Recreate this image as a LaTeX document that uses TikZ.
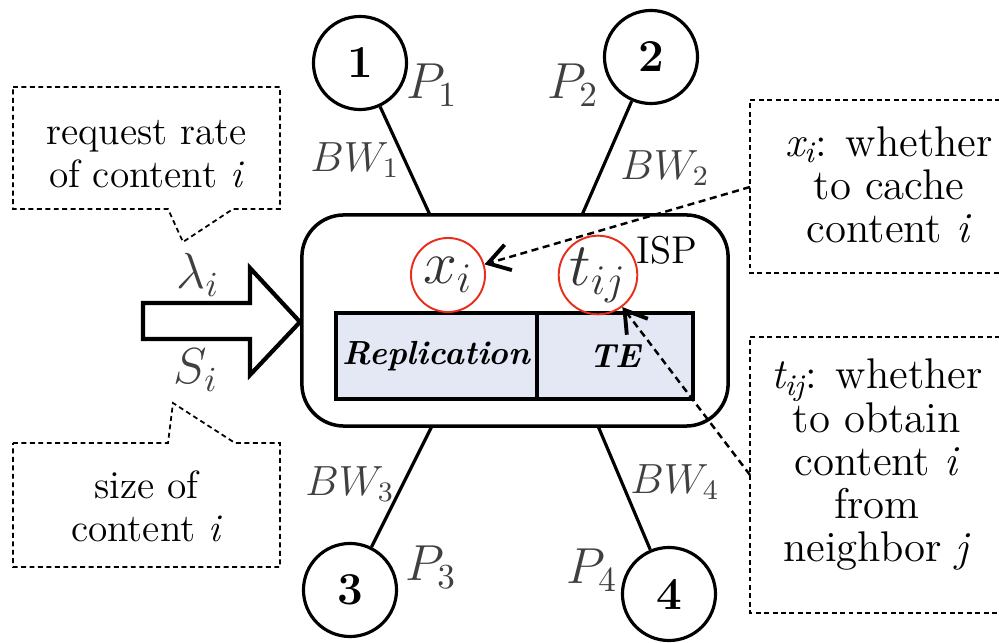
\documentclass[tikz,border=0pt]{standalone}
\usepackage{fontspec}
\usepackage{xcolor}
\usetikzlibrary{arrows.meta}
\definecolor{boxblue}{RGB}{227,232,244}
\definecolor{ringred}{RGB}{232,45,25}

\begin{document}
\begin{tikzpicture}[x=0.01cm, y=-0.01cm,
  peer/.style={circle, draw, line width=0.9pt, minimum size=0.93cm, inner sep=0pt, font=\fontsize{13}{13}\selectfont\bfseries},
  redring/.style={circle, draw=ringred, line width=0.55pt, minimum size=0.74cm, inner sep=0pt, text=black!80, font=\fontsize{17.28}{17.28}\selectfont},
  module/.style={draw, fill=boxblue, line width=0.9pt, minimum height=0.86cm, inner sep=0pt, font=\fontsize{9.5}{9.5}\selectfont\bfseries\itshape},
  note/.style={align=center, inner sep=0pt, font=\fontsize{11.2}{12.2}\selectfont},
  bignote/.style={note, font=\fontsize{12.2}{12.3}\selectfont},
  notebox/.style={dash pattern=on 1.4pt off 1pt, line width=0.5pt},
  hint/.style={dash pattern=on 2pt off 1.3pt, line width=0.7pt, -{Straight Barb[length=6pt,width=7.5pt,line width=1.1pt]}},
  lbl/.style={text=black!75, inner sep=0pt},
  link/.style={line width=0.9pt}
]
\useasboundingbox (0,0) rectangle (999,643);

% ISP box with its two modules
\node[draw, line width=1pt, rounded corners=12pt, minimum width=4.26cm, minimum height=2.11cm] (isp) at (515,320.5) {};
\node[lbl, text=black, font=\fontsize{11}{11}\selectfont] (ispname) at (667,250) {ISP};
\node[module, minimum width=2.01cm] (rep) at (436.5,356) {Replication};
\node[module, minimum width=1.56cm] (te) at (615,356) {TE};

% Decision variables
\node[redring] (xc) at (448,275) {$x_i$};
\node[redring] (tc) at (598,275) {$t_{ij}$};

% Neighbors
\node[peer] (n1) at (360,63) {1};
\node[peer] (n2) at (651,57) {2};
\node[peer] (n3) at (350,590) {3};
\node[peer] (n4) at (669,594) {4};

% Links to the ISP
\coordinate (l1) at (430,215);
\coordinate (l2) at (582,215);
\coordinate (l3) at (432,426);
\coordinate (l4) at (598,426);
\draw[link] (n1) -- (l1);
\draw[link] (n2) -- (l2);
\draw[link] (l3) -- (n3);
\draw[link] (l4) -- (n4);

% Prices and bandwidths
\node[lbl, font=\fontsize{14.4}{14.4}\selectfont] (p1) at (432,85) {$P_1$};
\node[lbl, font=\fontsize{14.4}{14.4}\selectfont] (p2) at (573,85) {$P_2$};
\node[lbl, font=\fontsize{14.4}{14.4}\selectfont] (p3) at (431,567) {$P_3$};
\node[lbl, font=\fontsize{14.4}{14.4}\selectfont] (p4) at (592,570) {$P_4$};
\node[lbl, font=\fontsize{12}{12}\selectfont] (bw1) at (355,160) {$BW_1$};
\node[lbl, font=\fontsize{12}{12}\selectfont] (bw2) at (665,168) {$BW_2$};
\node[lbl, font=\fontsize{12}{12}\selectfont] (bw3) at (350,484) {$BW_3$};
\node[lbl, font=\fontsize{12}{12}\selectfont] (bw4) at (675,482) {$BW_4$};

% Incoming requests
\draw[line width=1.2pt, miter limit=10] (143,303) -- (250,303) -- (250,268) -- (300,322)
  -- (250,375) -- (250,339) -- (143,339) -- cycle;
\node[lbl, font=\fontsize{14.4}{14.4}\selectfont] (lam) at (198,275) {$\lambda_i$};
\node[lbl, font=\fontsize{14.4}{14.4}\selectfont] (size) at (196,370) {$S_i$};

% Callouts on the left
\draw[notebox] (13,87) -- (280,87) -- (280,209) -- (233,209) -- (183,242) -- (168,209) -- (13,209) -- cycle;
\node[note] (rate) at (146.5,154) {request rate\\of content \textit{i}};
\draw[notebox] (13,443) -- (168,443) -- (173,403) -- (235,443) -- (280,443) -- (280,567) -- (13,567) -- cycle;
\node[note] (sz) at (146.5,506) {size of\\content \textit{i}};

% Callouts on the right
\draw[notebox] (1000,100) -- (750,100) -- (750,273) -- (1000,273);
\node[bignote] (xnote) at (889,185) {\textit{x\textsubscript{i}}: whether\\to cache\\content \textit{i}};
\draw[notebox] (1000,337) -- (750,337) -- (750,613) -- (1000,613);
\node[bignote] (tnote) at (877,465) {\textit{t\textsubscript{ij}}: whether\\to obtain\\content \textit{i}\\from\\neighbor \textit{j}};

% Pointers to the variables
\coordinate (xq) at (750,187);
\coordinate (tq) at (750,475);
\draw[hint] (xq) -- (xc);
\draw[hint] (tq) -- (tc);

\end{tikzpicture}
\end{document}
